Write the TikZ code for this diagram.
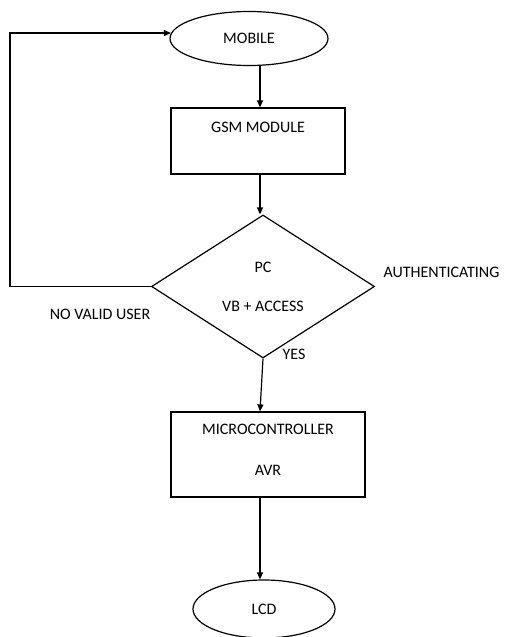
\documentclass[tikz,border=0pt]{standalone}
\usepackage{fontspec}
\setmainfont{Carlito}
\usetikzlibrary{shapes.geometric,arrows.meta}
\begin{document}
\begin{tikzpicture}[x=1pt,y=-1pt,line width=1.2pt,
  >={Triangle[length=7pt,width=6pt]},
  font=\fontsize{16}{19}\selectfont,
  ell/.style={draw,ellipse,inner sep=0pt},
  box/.style={draw,rectangle,inner sep=0pt,align=center},
  dec/.style={draw,diamond,inner sep=0pt,align=center},
  lbl/.style={inner sep=0pt}]
\useasboundingbox (0,0) rectangle (508,637);
\coordinate (sp) at (260,0);
\coordinate (lx) at (10,0);
\node[ell,minimum width=158pt,minimum height=54pt] (mobile) at (249,38.5) {MOBILE};
\node[box,minimum width=174pt,minimum height=66pt,text depth=28pt] (gsm) at (258,141) {GSM MODULE};
\node[dec,minimum width=223pt,minimum height=143pt] (dia) at (263,286.5) {PC\\[20pt]VB + ACCESS};
\node[box,minimum width=194pt,minimum height=85pt,text depth=10pt] (mcu) at (268,454.5) {MICROCONTROLLER\\[22pt]AVR};
\node[ell,minimum width=142pt,minimum height=58pt] (lcd) at (264,609) {LCD};
\node[lbl,anchor=west] (auth) at (383,272) {AUTHENTICATING};
\node[lbl] (novalid) at (100,314) {NO VALID USER};
\node[lbl] (yes) at (294,354) {YES};
\draw[->] (mobile.south -| sp) -- (gsm.north -| sp);
\draw[->] (gsm.south -| sp) -- (dia.north -| sp);
\draw[->] (dia.south) -- (mcu.north -| sp);
\draw[->] (mcu.south -| sp) -- (lcd.north -| sp);
\draw[->] (dia.west) -- (dia.west -| lx) |- (mobile.176);
\end{tikzpicture}
\end{document}
